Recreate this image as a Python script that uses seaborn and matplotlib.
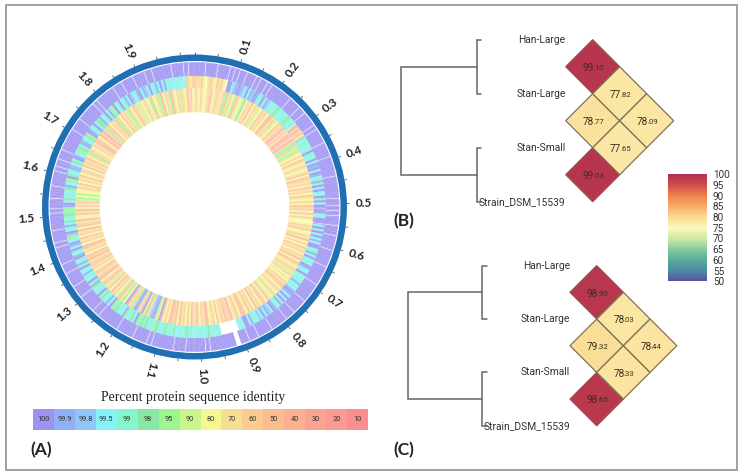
import numpy as np
import seaborn as sns
import matplotlib
matplotlib.use("Agg")
import matplotlib.pyplot as plt
from matplotlib.colors import LinearSegmentedColormap, Normalize, ListedColormap, to_rgb
from matplotlib.cm import ScalarMappable
from matplotlib.patches import Rectangle, Polygon

W, H = 744, 475
sns.set_theme(style="white")
plt.rcParams['font.family'] = ['Roboto', 'DejaVu Sans']

# ---- Panel A data
identity_labels = ["100","99.9","99.8","99.5","99","98","95","90","80","70","60","50","40","30","20","10"]
identity_colors = ["#9C92F2","#8FB0F6","#90C6F8","#86F2F8","#86F5CC","#86E8A4","#9CF58E","#C8F58C",
                   "#F6F692","#F8DE92","#FBCB92","#FBBC92","#FBB092","#FAA392","#FA9A92","#FA8E8E"]
# one string per 12 degrees, clockwise from the top; hex digit = identity class, "." = no hit
track1 = ["0000.0000.00","00.0.0.00.00","0.0.00.0.000","00000.0000.0","0.00000.0.00",
          "000.00000.00","00000.000000","00.00.0.0.00","0.000.00000.","000000.00000",
          "00.0000000.0","0000.000.000","000.00000.00","0.000..00000","00000.0.0000",
          "000.0000.000","00000.0.0000","0.000000.000","00000.00.000","000.0000.000",
          "00.000.00000","0.0.0000.000","000.0.000.00","00.00000.0.0","0.000.000000",
          "00.0000.0000","000.0.000000","0.000.0000.0","000.00.00000","00.0000.0.00"]
track2 = ["a.9a8.9a.8a9","a8.003210123","031201340312","343454343454","34.c.b.a.534",
          "434304340301","030134140303","304030.00430","0.3040303130","034130343013",
          "304343134310","130304134103","213032343130","0343........","343435434343",
          "343543433534","354335634354","546035436134","354603143540","343514034313",
          "304134013403","103462034135","345646103534","345134605341","135401346531",
          "143560134035","513403146034","034130234103","123034130313","43334333a9.a"]
track3 = ["a98a8.9ab89a","9.a6b7a86b98","758a9b8a978b","9a8bc9a78b9a","c.a.cb.c.66a",
          "7698a8b98a98","9b8ba9a8b9a8","b98a8b.a8b8a","8.8a9b88a9c8","a8b9a8a9c8ba",
          "89a97a898a9b","a8a98a789b8a","b8a9c8a9b8ac","a8b9.c.ab9a8","b8a98cb9a8ba",
          "9c8b8a9c8bab","c8a8b09601.7","c70b9106a7c0","869b68a9c8b7","9ba8cb9ab8a9",
          "ba9cab8a9bc8","a9b8a9c8ba9c","88b9c8a.a768","688a9b8a9b8a","a8b9a9b8a6a9",
          "8a9bca8c.c.6","ab8a9b6a8b9a","76a8ba7978a9","86b87a6c8a96","c98a7a98b.a8"]
genome_size = 2.03
tick_labels_mb = [0.1,0.2,0.3,0.4,0.5,0.6,0.7,0.8,0.9,1.0,1.1,1.2,1.3,1.4,1.5,1.6,1.7,1.8,1.9]
minor_ticks_mb = [0.0,0.05,0.15,0.25,0.35,0.45,0.55,0.65,0.75,0.85,0.95,1.05,1.15,1.25,1.35,
                  1.45,1.55,1.65,1.75,1.85,1.95,2.0]

# ---- Panel B / C data
taxa = ["Han-Large","Stan-Large","Stan-Small","Strain_DSM_15539"]
cell_col = [0,0,0,1,1,2]
cell_row = [0,2,4,1,3,2]
values_b = ["99.10","78.77","99.03","77.82","77.65","78.09"]
values_c = ["98.90","79.32","98.65","78.03","78.33","78.44"]
scale_ticks = [100,95,90,85,80,75,70,65,60,55,50]


def ax_px(l, t, w, h, **kw):
    return fig.add_axes([l/W, 1-(t+h)/H, w/W, h/H], **kw)


def pale(c, f):
    r = np.array(to_rgb(c))
    return tuple(r + (1-r)*f)


fig = plt.figure(figsize=(W/100, H/100), dpi=100, facecolor="white")
fig.add_artist(Rectangle((5.5/W, 1-470/H), 731/W, 465/H, transform=fig.transFigure,
                         fill=False, edgecolor="#9a9a9a", lw=1.3))

# ---- Circular plot
R = 175
cx, cy = 194.5, 207
pol = ax_px(cx-R, cy-R, 2*R, 2*R, projection="polar")
pol.set_theta_zero_location("N")
pol.set_theta_direction(-1)
pol.set_rlim(0, R)
pol.axis("off")
pol.bar(0, 6.5, width=2*np.pi, bottom=146, color="#1F6FB2", linewidth=0)
for groups, r0, r1, fade in [(track1, 131, 144.7, 0.12), (track2, 119, 131, 0.12), (track3, 95, 119, 0.2)]:
    seq = "".join(groups)
    dth = 2*np.pi/len(seq)
    last = seq[0] if seq[0] != "." else "0"
    for i, c in enumerate(seq):
        isolated = c == "." and seq[i-1] != "." and seq[(i+1) % len(seq)] != "."
        if c == "." and not isolated:
            continue
        if c != ".":
            last = c
        col = pale(identity_colors[int(last, 16)], fade)
        pol.bar((i+0.5)*dth, r1-r0, width=dth, bottom=r0, color=col, edgecolor=col, linewidth=0.15)
        if isolated:
            pol.bar((i+0.5)*dth, r1-r0, width=dth*0.28, bottom=r0, color="white", alpha=0.85, linewidth=0)
all_ticks = np.array(tick_labels_mb + minor_ticks_mb)
pol.vlines(all_ticks/genome_size*2*np.pi, 152.5, 155, color="#555555", lw=0.6)
for v in tick_labels_mb:
    deg = v/genome_size*360
    rot = 90-deg
    if deg > 200:
        rot += 180
    pol.text(np.deg2rad(deg), 169, f"{v:.1f}", rotation=rot, rotation_mode="anchor",
             ha="center", va="center", fontsize=8.5, family=["Lato", "DejaVu Sans"],
             fontweight="bold", color="#222222")

# ---- Legend strip
leg = ax_px(33, 408.5, 335, 21.5)
strip = np.arange(len(identity_labels)).reshape(1, -1)
sns.heatmap(strip, ax=leg, cmap=ListedColormap(identity_colors), cbar=False,
            annot=np.array(identity_labels).reshape(1, -1), fmt="", xticklabels=False, yticklabels=False,
            annot_kws={"fontsize": 5.3, "color": "#333333"})
fig.text(193/W, 1-397/H, "Percent protein sequence identity", ha="center", va="center",
         fontsize=9.9, family=["Liberation Serif"], color="#222222")

# ---- Heat scale
cmap = LinearSegmentedColormap.from_list("ani", [
    (0.0, "#5A4FA0"), (0.1, "#4F8AA4"), (0.2, "#58AE98"), (0.3, "#86CCA0"), (0.4, "#CFE8A4"),
    (0.5, "#FCF8BA"), (0.6, "#FADA94"), (0.7, "#F8AC64"), (0.8, "#EE8250"), (0.9, "#CF4E4E"),
    (1.0, "#B3304E")])
norm = Normalize(50, 100)


def panel(l, t, u, values, root, clade, stub):
    ax = ax_px(l-7.5*u, t-1.5*u, 11*u, 7*u)
    ax.set_xlim(-7.5, 3.5)
    ax.set_ylim(5.5, -1.5)
    ax.axis("off")
    for col, row, val in zip(cell_col, cell_row, values):
        v = float(val)
        x, y = col, row
        ax.add_patch(Polygon([(x, y-1), (x+1, y), (x, y+1), (x-1, y)], closed=True,
                             facecolor=cmap(norm(v)), edgecolor="#7d7355" if v < 90 else "#9a5050", lw=0.9))
        ip, dp = val.split(".")
        ax.text(x+0.05, y+0.05, ip, ha="right", va="center", fontsize=7.2, color="#3a3020")
        ax.text(x+0.02, y+0.05, "."+dp, ha="left", va="center", fontsize=5.6, color="#3a3020")
    rows = [-1, 1, 3, 5]
    for name, r in zip(taxa, rows):
        ax.text(-1.0, r, name, ha="right", va="center", fontsize=7.4, color="#333333")
    lc = dict(color="#666666", lw=1.1, solid_joinstyle="miter")
    ax.plot([clade+stub, clade, clade, clade+stub], [rows[0], rows[0], rows[1], rows[1]], **lc)
    ax.plot([clade+stub, clade, clade, clade+stub], [rows[2], rows[2], rows[3], rows[3]], **lc)
    mid1, mid2 = (rows[0]+rows[1])/2, (rows[2]+rows[3])/2
    ax.plot([clade, root, root, clade], [mid1, mid1, mid2, mid2], **lc)


panel(592.7, 66.7, 27.0, values_b, -7.1, -4.27, 0.14)
panel(596.7, 292.3, 26.7, values_c, -7.07, -4.28, 0.17)

cax = ax_px(667.7, 174.3, 39.6, 107)
cb = fig.colorbar(ScalarMappable(norm=norm, cmap=cmap), cax=cax)
cb.set_ticks(scale_ticks)
cb.ax.tick_params(length=0, labelsize=7.2, pad=4, labelcolor="#333333")
cb.outline.set_visible(False)

# ---- Panel tags
for txt, x, y in [("(A)", 30, 450), ("(B)", 393, 221), ("(C)", 393, 450)]:
    fig.text(x/W, 1-y/H, txt, ha="left", va="center", fontsize=12.5, fontweight="bold",
             family=["Lato", "DejaVu Sans"], color="#222222")

fig.savefig("out.png", dpi=100)
